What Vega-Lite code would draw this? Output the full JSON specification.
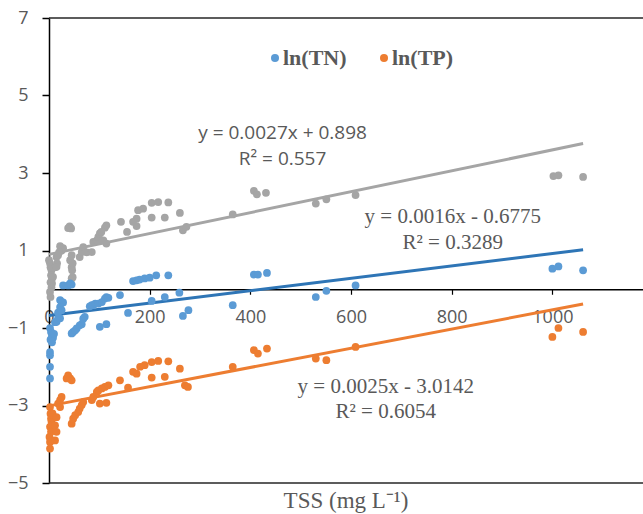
{
  "$schema": "https://vega.github.io/schema/vega-lite/v6.json",
  "width": 594,
  "height": 465,
  "autosize": {"type": "none"},
  "padding": {"left": 49, "top": 18, "right": 0, "bottom": 31},
  "background": "white",
  "title": {"text": "TSS (mg L⁻¹)", "orient": "bottom", "anchor": "middle", "font": "Liberation Serif", "fontSize": 23, "fontWeight": "normal", "color": "#595959", "offset": -2},
  "config": {
    "view": {"stroke": null},
    "font": "Open Sans"
  },
  "datasets": {
    "pts": [
      {"series": "Series3", "tss": 0, "val": 0.75}, {"series": "Series3", "tss": 2, "val": 0.67}, {"series": "Series3", "tss": 3, "val": 0.57}, {"series": "Series3", "tss": 5, "val": 0.49}, {"series": "Series3", "tss": 4, "val": 0.36}, {"series": "Series3", "tss": 6, "val": 0.28}, {"series": "Series3", "tss": 3, "val": 0.18}, {"series": "Series3", "tss": 5, "val": 0.05}, {"series": "Series3", "tss": 2, "val": -0.07}, {"series": "Series3", "tss": 3, "val": -0.2}, {"series": "Series3", "tss": 8, "val": 0.32}, {"series": "Series3", "tss": 6, "val": 0.15},
      {"series": "Series3", "tss": 12, "val": 0.57}, {"series": "Series3", "tss": 15, "val": 0.83}, {"series": "Series3", "tss": 16, "val": 0.67}, {"series": "Series3", "tss": 18, "val": 0.88}, {"series": "Series3", "tss": 22, "val": 1.11}, {"series": "Series3", "tss": 25, "val": 1.0}, {"series": "Series3", "tss": 28, "val": 1.06}, {"series": "Series3", "tss": 20, "val": 0.95}, {"series": "Series3", "tss": 15, "val": 0.58},
      {"series": "Series3", "tss": 38, "val": 1.58}, {"series": "Series3", "tss": 41, "val": 1.62}, {"series": "Series3", "tss": 44, "val": 1.57},
      {"series": "Series3", "tss": 42, "val": 0.75}, {"series": "Series3", "tss": 45, "val": 0.57}, {"series": "Series3", "tss": 45, "val": 0.88}, {"series": "Series3", "tss": 47, "val": 0.67}, {"series": "Series3", "tss": 46, "val": 0.49}, {"series": "Series3", "tss": 45, "val": 0.28}, {"series": "Series3", "tss": 47, "val": 0.31},
      {"series": "Series3", "tss": 61, "val": 0.83}, {"series": "Series3", "tss": 65, "val": 0.96}, {"series": "Series3", "tss": 68, "val": 1.09}, {"series": "Series3", "tss": 75, "val": 0.95},
      {"series": "Series3", "tss": 85, "val": 0.96}, {"series": "Series3", "tss": 88, "val": 1.22}, {"series": "Series3", "tss": 95, "val": 1.26}, {"series": "Series3", "tss": 98, "val": 1.35}, {"series": "Series3", "tss": 101, "val": 1.44}, {"series": "Series3", "tss": 108, "val": 1.26}, {"series": "Series3", "tss": 111, "val": 1.59}, {"series": "Series3", "tss": 114, "val": 1.18}, {"series": "Series3", "tss": 114, "val": 1.65}, {"series": "Series3", "tss": 104, "val": 1.48},
      {"series": "Series3", "tss": 143, "val": 1.74}, {"series": "Series3", "tss": 155, "val": 1.48}, {"series": "Series3", "tss": 167, "val": 1.74}, {"series": "Series3", "tss": 174, "val": 1.82}, {"series": "Series3", "tss": 174, "val": 1.63}, {"series": "Series3", "tss": 177, "val": 2.04}, {"series": "Series3", "tss": 187, "val": 2.08}, {"series": "Series3", "tss": 204, "val": 1.85}, {"series": "Series3", "tss": 204, "val": 2.23}, {"series": "Series3", "tss": 217, "val": 2.25}, {"series": "Series3", "tss": 237, "val": 2.24}, {"series": "Series3", "tss": 230, "val": 1.85}, {"series": "Series3", "tss": 260, "val": 1.97}, {"series": "Series3", "tss": 266, "val": 1.52}, {"series": "Series3", "tss": 273, "val": 1.61},
      {"series": "Series3", "tss": 365, "val": 1.93}, {"series": "Series3", "tss": 407, "val": 2.54}, {"series": "Series3", "tss": 413, "val": 2.45}, {"series": "Series3", "tss": 431, "val": 2.49}, {"series": "Series3", "tss": 530, "val": 2.21}, {"series": "Series3", "tss": 551, "val": 2.32}, {"series": "Series3", "tss": 609, "val": 2.43}, {"series": "Series3", "tss": 1002, "val": 2.92}, {"series": "Series3", "tss": 1012, "val": 2.94}, {"series": "Series3", "tss": 1061, "val": 2.9},

      {"series": "ln(TN)", "tss": 2, "val": -1.0}, {"series": "ln(TN)", "tss": 4, "val": -1.1}, {"series": "ln(TN)", "tss": 6, "val": -1.2}, {"series": "ln(TN)", "tss": 8, "val": -1.25}, {"series": "ln(TN)", "tss": 3, "val": -1.3}, {"series": "ln(TN)", "tss": 6, "val": -1.37}, {"series": "ln(TN)", "tss": 10, "val": -1.15}, {"series": "ln(TN)", "tss": 2, "val": -1.62}, {"series": "ln(TN)", "tss": 2, "val": -1.7}, {"series": "ln(TN)", "tss": 2, "val": -2.0}, {"series": "ln(TN)", "tss": 2, "val": -2.3},
      {"series": "ln(TN)", "tss": 12, "val": -0.85}, {"series": "ln(TN)", "tss": 15, "val": -0.84}, {"series": "ln(TN)", "tss": 18, "val": -0.76}, {"series": "ln(TN)", "tss": 18, "val": -0.6}, {"series": "ln(TN)", "tss": 22, "val": -0.75}, {"series": "ln(TN)", "tss": 22, "val": -0.28}, {"series": "ln(TN)", "tss": 25, "val": -0.33}, {"series": "ln(TN)", "tss": 28, "val": -0.34}, {"series": "ln(TN)", "tss": 22, "val": -0.46}, {"series": "ln(TN)", "tss": 25, "val": -0.54},
      {"series": "ln(TN)", "tss": 28, "val": 0.1}, {"series": "ln(TN)", "tss": 38, "val": 0.1}, {"series": "ln(TN)", "tss": 42, "val": 0.15}, {"series": "ln(TN)", "tss": 45, "val": 0.12},
      {"series": "ln(TN)", "tss": 45, "val": -1.14}, {"series": "ln(TN)", "tss": 48, "val": -1.1}, {"series": "ln(TN)", "tss": 52, "val": -1.06}, {"series": "ln(TN)", "tss": 55, "val": -1.01}, {"series": "ln(TN)", "tss": 61, "val": -0.93}, {"series": "ln(TN)", "tss": 65, "val": -0.9}, {"series": "ln(TN)", "tss": 68, "val": -0.76}, {"series": "ln(TN)", "tss": 71, "val": -0.71},
      {"series": "ln(TN)", "tss": 81, "val": -0.44}, {"series": "ln(TN)", "tss": 85, "val": -0.41}, {"series": "ln(TN)", "tss": 88, "val": -0.41}, {"series": "ln(TN)", "tss": 92, "val": -0.37}, {"series": "ln(TN)", "tss": 98, "val": -0.37}, {"series": "ln(TN)", "tss": 105, "val": -0.33}, {"series": "ln(TN)", "tss": 111, "val": -0.24}, {"series": "ln(TN)", "tss": 114, "val": -0.2}, {"series": "ln(TN)", "tss": 118, "val": -0.22},
      {"series": "ln(TN)", "tss": 101, "val": -0.97}, {"series": "ln(TN)", "tss": 114, "val": -0.9},
      {"series": "ln(TN)", "tss": 141, "val": -0.15}, {"series": "ln(TN)", "tss": 157, "val": -0.61}, {"series": "ln(TN)", "tss": 167, "val": 0.21}, {"series": "ln(TN)", "tss": 174, "val": 0.23}, {"series": "ln(TN)", "tss": 180, "val": 0.25}, {"series": "ln(TN)", "tss": 190, "val": 0.28}, {"series": "ln(TN)", "tss": 200, "val": 0.3}, {"series": "ln(TN)", "tss": 213, "val": 0.36}, {"series": "ln(TN)", "tss": 237, "val": 0.36},
      {"series": "ln(TN)", "tss": 204, "val": -0.3}, {"series": "ln(TN)", "tss": 230, "val": -0.2}, {"series": "ln(TN)", "tss": 259, "val": -0.09}, {"series": "ln(TN)", "tss": 266, "val": -0.69}, {"series": "ln(TN)", "tss": 277, "val": -0.54}, {"series": "ln(TN)", "tss": 365, "val": -0.41}, {"series": "ln(TN)", "tss": 407, "val": 0.38}, {"series": "ln(TN)", "tss": 415, "val": 0.38}, {"series": "ln(TN)", "tss": 433, "val": 0.42}, {"series": "ln(TN)", "tss": 530, "val": -0.2}, {"series": "ln(TN)", "tss": 551, "val": -0.04}, {"series": "ln(TN)", "tss": 609, "val": 0.1}, {"series": "ln(TN)", "tss": 1000, "val": 0.53}, {"series": "ln(TN)", "tss": 1012, "val": 0.59}, {"series": "ln(TN)", "tss": 1061, "val": 0.49},

      {"series": "ln(TP)", "tss": 2, "val": -3.04}, {"series": "ln(TP)", "tss": 3, "val": -3.21}, {"series": "ln(TP)", "tss": 4, "val": -3.34}, {"series": "ln(TP)", "tss": 5, "val": -3.42}, {"series": "ln(TP)", "tss": 2, "val": -3.55}, {"series": "ln(TP)", "tss": 4, "val": -3.68}, {"series": "ln(TP)", "tss": 1, "val": -3.81}, {"series": "ln(TP)", "tss": 2, "val": -3.94}, {"series": "ln(TP)", "tss": 2, "val": -4.11}, {"series": "ln(TP)", "tss": 7, "val": -3.2}, {"series": "ln(TP)", "tss": 6, "val": -3.5},
      {"series": "ln(TP)", "tss": 15, "val": -3.3}, {"series": "ln(TP)", "tss": 12, "val": -3.51}, {"series": "ln(TP)", "tss": 15, "val": -3.68}, {"series": "ln(TP)", "tss": 12, "val": -3.9},
      {"series": "ln(TP)", "tss": 25, "val": -2.78}, {"series": "ln(TP)", "tss": 22, "val": -2.86}, {"series": "ln(TP)", "tss": 18, "val": -2.95}, {"series": "ln(TP)", "tss": 22, "val": -3.04},
      {"series": "ln(TP)", "tss": 35, "val": -2.3}, {"series": "ln(TP)", "tss": 38, "val": -2.22}, {"series": "ln(TP)", "tss": 42, "val": -2.3}, {"series": "ln(TP)", "tss": 45, "val": -2.35},
      {"series": "ln(TP)", "tss": 45, "val": -3.47}, {"series": "ln(TP)", "tss": 48, "val": -3.34}, {"series": "ln(TP)", "tss": 52, "val": -3.25}, {"series": "ln(TP)", "tss": 58, "val": -3.17}, {"series": "ln(TP)", "tss": 61, "val": -3.08}, {"series": "ln(TP)", "tss": 65, "val": -2.99}, {"series": "ln(TP)", "tss": 68, "val": -2.91},
      {"series": "ln(TP)", "tss": 85, "val": -2.86}, {"series": "ln(TP)", "tss": 88, "val": -2.78}, {"series": "ln(TP)", "tss": 95, "val": -2.65}, {"series": "ln(TP)", "tss": 98, "val": -2.61}, {"series": "ln(TP)", "tss": 105, "val": -2.56}, {"series": "ln(TP)", "tss": 111, "val": -2.52}, {"series": "ln(TP)", "tss": 118, "val": -2.48}, {"series": "ln(TP)", "tss": 101, "val": -2.95}, {"series": "ln(TP)", "tss": 114, "val": -2.93},
      {"series": "ln(TP)", "tss": 141, "val": -2.35}, {"series": "ln(TP)", "tss": 157, "val": -2.54}, {"series": "ln(TP)", "tss": 167, "val": -2.13}, {"series": "ln(TP)", "tss": 174, "val": -2.18}, {"series": "ln(TP)", "tss": 181, "val": -2.0}, {"series": "ln(TP)", "tss": 190, "val": -1.96}, {"series": "ln(TP)", "tss": 204, "val": -1.88}, {"series": "ln(TP)", "tss": 217, "val": -1.85}, {"series": "ln(TP)", "tss": 237, "val": -1.86}, {"series": "ln(TP)", "tss": 204, "val": -2.28}, {"series": "ln(TP)", "tss": 230, "val": -2.26}, {"series": "ln(TP)", "tss": 260, "val": -2.05}, {"series": "ln(TP)", "tss": 270, "val": -2.48}, {"series": "ln(TP)", "tss": 276, "val": -2.52},
      {"series": "ln(TP)", "tss": 365, "val": -2.0}, {"series": "ln(TP)", "tss": 407, "val": -1.57}, {"series": "ln(TP)", "tss": 415, "val": -1.66}, {"series": "ln(TP)", "tss": 433, "val": -1.53}, {"series": "ln(TP)", "tss": 530, "val": -1.79}, {"series": "ln(TP)", "tss": 551, "val": -1.83}, {"series": "ln(TP)", "tss": 609, "val": -1.49}, {"series": "ln(TP)", "tss": 1000, "val": -1.23}, {"series": "ln(TP)", "tss": 1012, "val": -1.0}, {"series": "ln(TP)", "tss": 1061, "val": -1.1}
    ],
    "trend": [
      {"series": "Series3", "tss": 0, "val": 0.9}, {"series": "Series3", "tss": 1061, "val": 3.76},
      {"series": "ln(TN)", "tss": 0, "val": -0.68}, {"series": "ln(TN)", "tss": 1061, "val": 1.02},
      {"series": "ln(TP)", "tss": 0, "val": -3.01}, {"series": "ln(TP)", "tss": 1061, "val": -0.38}
    ],
    "one": [{}]
  },
  "layer": [
    {
      "data": {"name": "one"},
      "mark": {"type": "rule", "color": "#262626", "strokeWidth": 1.5},
      "encoding": {"y": {"datum": 7, "type": "quantitative"}}
    },
    {
      "data": {"name": "one"},
      "mark": {"type": "rule", "color": "#262626", "strokeWidth": 1.5},
      "encoding": {"y": {"datum": -5, "type": "quantitative"}}
    },
    {
      "data": {"name": "trend"},
      "transform": [{"filter": "datum.series === 'Series3'"}],
      "mark": {"type": "line", "strokeWidth": 3, "color": "#A5A5A5"},
      "encoding": {
        "x": {"field": "tss", "type": "quantitative"},
        "y": {"field": "val", "type": "quantitative"}
      }
    },
    {
      "data": {"name": "trend"},
      "transform": [{"filter": "datum.series === 'ln(TN)'"}],
      "mark": {"type": "line", "strokeWidth": 3, "color": "#2E75B6"},
      "encoding": {
        "x": {"field": "tss", "type": "quantitative"},
        "y": {"field": "val", "type": "quantitative"}
      }
    },
    {
      "data": {"name": "trend"},
      "transform": [{"filter": "datum.series === 'ln(TP)'"}],
      "mark": {"type": "line", "strokeWidth": 3, "color": "#ED7D31"},
      "encoding": {
        "x": {"field": "tss", "type": "quantitative"},
        "y": {"field": "val", "type": "quantitative"}
      }
    },
    {
      "data": {"name": "pts"},
      "mark": {"type": "point", "filled": true, "shape": "circle", "size": 60, "opacity": 1},
      "encoding": {
        "x": {"field": "tss", "type": "quantitative", "title": null,
          "scale": {"domain": [0, 1180], "nice": false},
          "axis": {"values": [0, 200, 400, 600, 800, 1000], "offset": -193.75, "domainColor": "#000000", "domainWidth": 1.5, "tickColor": "#000000", "tickWidth": 1.2, "tickSize": 5, "labelFont": "Open Sans", "labelFontSize": 18, "labelColor": "#595959", "labelPadding": 14, "labelFlush": false, "grid": false, "format": "d"}},
        "y": {"field": "val", "type": "quantitative", "title": null,
          "scale": {"domain": [-5, 7], "nice": false},
          "axis": {"values": [-5, -3, -1, 1, 3, 5, 7], "domainColor": "#000000", "domainWidth": 1.5, "tickColor": "#000000", "tickWidth": 1.5, "tickSize": 7, "labelFont": "Open Sans", "labelFontSize": 18, "labelColor": "#595959", "labelPadding": 14, "grid": false}},
        "color": {"field": "series", "type": "nominal", "scale": {"domain": ["ln(TN)", "ln(TP)", "Series3"], "range": ["#5B9BD5", "#ED7D31", "#A5A5A5"]},
          "legend": {"values": ["ln(TN)", "ln(TP)"], "title": null, "orient": "none", "legendX": 215, "legendY": 29, "direction": "horizontal", "padding": 0, "columnPadding": 26, "labelOffset": -3, "labelFont": "Liberation Serif", "labelFontWeight": "bold", "labelFontSize": 22, "labelColor": "#595959", "symbolType": "circle", "symbolSize": 64, "symbolStrokeWidth": 0}}
      }
    },
    {"data": {"name": "one"}, "mark": {"type": "text", "text": "y = 0.0027x + 0.898", "font": "Open Sans", "fontSize": 19, "color": "#595959", "align": "center", "baseline": "middle"}, "encoding": {"x": {"datum": 464, "type": "quantitative"}, "y": {"datum": 4.03, "type": "quantitative"}}},
    {"data": {"name": "one"}, "mark": {"type": "text", "text": "R² = 0.557", "font": "Open Sans", "fontSize": 19, "color": "#595959", "align": "center", "baseline": "middle"}, "encoding": {"x": {"datum": 464, "type": "quantitative"}, "y": {"datum": 3.35, "type": "quantitative"}}},
    {"data": {"name": "one"}, "mark": {"type": "text", "text": "y = 0.0016x - 0.6775", "font": "Liberation Serif", "fontSize": 21, "color": "#595959", "align": "center", "baseline": "middle"}, "encoding": {"x": {"datum": 802, "type": "quantitative"}, "y": {"datum": 1.86, "type": "quantitative"}}},
    {"data": {"name": "one"}, "mark": {"type": "text", "text": "R² = 0.3289", "font": "Liberation Serif", "fontSize": 21, "color": "#595959", "align": "center", "baseline": "middle"}, "encoding": {"x": {"datum": 802, "type": "quantitative"}, "y": {"datum": 1.19, "type": "quantitative"}}},
    {"data": {"name": "one"}, "mark": {"type": "text", "text": "y = 0.0025x - 3.0142", "font": "Liberation Serif", "fontSize": 21, "color": "#595959", "align": "center", "baseline": "middle"}, "encoding": {"x": {"datum": 669, "type": "quantitative"}, "y": {"datum": -2.53, "type": "quantitative"}}},
    {"data": {"name": "one"}, "mark": {"type": "text", "text": "R² = 0.6054", "font": "Liberation Serif", "fontSize": 21, "color": "#595959", "align": "center", "baseline": "middle"}, "encoding": {"x": {"datum": 669, "type": "quantitative"}, "y": {"datum": -3.17, "type": "quantitative"}}}
  ]
}
